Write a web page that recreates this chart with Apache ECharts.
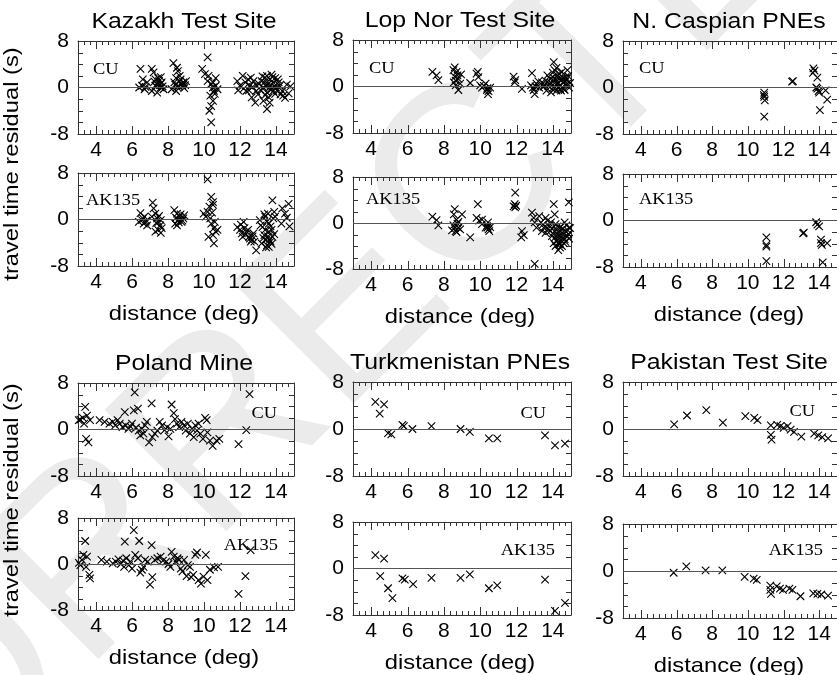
<!DOCTYPE html>
<html>
<head>
<meta charset="utf-8">
<script src="https://cdn.jsdelivr.net/npm/echarts@6/dist/echarts.min.js"></script>
<style>
  html, body { margin: 0; padding: 0; background: #fff; }
  #main { width: 837px; height: 675px; }
</style>
</head>
<body>
<div id="main"></div>
<script>
// [distance (deg), travel time residual (s)]
var kazakhCU = [
  [6.47, 3.2], [6.6, 1.4], [6.4, 0], [6.7, -0.3], [6.84, 0.9], [6.56, 0.3], [6.75, 0.1],
  [7.1, 3.2], [7.2, 2.6], [7.3, 1.4], [7.4, 0.6], [7.6, 0], [7.65, 0.9], [7.1, -0.6], [7.4, -0.9],
  [7.3, 0.3], [7.5, 1.1], [7.75, -0.3], [7.6, 1.8],
  [8.3, 4.2], [8.5, 3.4], [8.55, 2.8], [8.65, 2.0], [8.35, 0.9], [8.5, 0.1], [8.75, 0.6], [8.9, -0.1],
  [8.2, -0.3], [8.65, 1.1], [8.85, 0.9], [9.0, 1.1], [8.45, -0.6],
  [10.2, 5.2], [9.9, 3.2], [10.05, 2.3], [10.2, 1.1], [10.4, 0.6], [10.5, 0], [10.55, -0.6], [10.35, -1.4],
  [10.5, -2.3], [10.4, -3.2], [10.3, -4.0], [10.4, -6.0], [10.65, 0.3], [10.75, -0.3], [10.6, -1.1],
  [10.5, 0.9], [10.65, 1.6], [10.25, 2.0],
  [11.85, 1.1], [12.0, 0.3], [12.15, 2.0], [12.3, 0.9], [12.35, -0.6], [12.55, 0.3], [12.65, -1.7],
  [12.85, -2.6], [12.9, -0.6], [13.05, 0.6], [12.45, 1.4], [12.75, 1.1],
  [13.2, 1.1], [13.3, 0], [13.4, 1.7], [13.5, -0.9], [13.55, 0.6], [13.6, -1.7], [13.65, 1.4], [13.75, -0.3],
  [13.85, 0.9], [13.95, -1.1], [13.5, -3.7], [13.3, -2.3], [14.0, 0], [14.1, 1.4], [14.2, 0.3], [14.35, -0.6],
  [14.4, -1.4], [13.35, 0.9], [13.8, 1.8], [13.6, -0.1], [14.6, 0.5], [14.7, -1.0], [14.5, -1.8], [14.8, 0.2],
  [7.25, 1.0], [7.35, 0.2], [7.55, 0.4], [7.45, 1.6], [7.7, 0.2], [8.4, 0.5], [8.6, 0.2], [8.7, 1.4],
  [8.45, 1.6], [8.8, 0.3], [8.95, 0.4], [12.5, -0.5], [12.7, 0.1], [12.9, 0.4], [13.0, -1.2], [13.15, -0.4],
  [13.25, 1.9], [13.45, 0.2], [13.5, 2.0], [13.7, 0.4], [13.75, 2.2], [13.9, 0.2], [13.95, 1.6], [14.05, -0.5],
  [14.15, 0.9], [14.25, -1.2], [13.4, -1.3], [13.65, -2.6], [13.85, -0.6], [12.6, 1.7], [12.2, -0.2], [11.9, -0.5]
];
var kazakhAK = [
  [10.2, 6.9],
  [6.47, 1.1], [6.56, -0.1], [6.65, -0.7], [6.75, -0.4], [6.84, -1.0], [6.38, -0.4], [6.7, 0.5],
  [7.15, 2.9], [7.2, 1.9], [7.3, 1.0], [7.4, 0.2], [7.47, -0.4], [7.56, -1.0], [7.65, -1.5], [7.3, -2.1],
  [7.45, -1.8], [7.1, 0.5], [7.6, -0.1],
  [8.35, 1.6], [8.5, 1.0], [8.55, -0.1], [8.65, 0.5], [8.75, -0.4], [8.85, 0.2], [8.4, -0.7], [8.9, 0.7], [8.5, -1.0],
  [9.98, 1.0], [10.1, 0.5], [10.4, 3.9], [10.5, 3.0], [10.3, 2.2], [10.2, 1.3], [10.35, 0.2], [10.4, -0.7],
  [10.55, -1.5], [10.65, -2.1], [10.5, -2.7], [10.55, -4.1], [10.25, -3.0], [10.5, 2.5], [10.75, -1.8],
  [11.85, -1.3], [12.0, -1.8], [12.1, -2.4], [12.25, -1.5], [12.35, -2.1], [12.2, -0.4], [12.5, -3.0],
  [12.65, -3.5], [12.8, -3.8], [12.9, -5.3], [12.55, -3.3], [12.75, -2.4],
  [13.1, -0.1], [13.25, -1.3], [13.35, -2.7], [13.45, -3.5], [13.5, -4.4], [13.6, -4.7], [13.7, -3.8],
  [13.75, -1.8], [13.6, -0.7], [13.4, 0.5], [13.85, 0.2], [13.2, -4.1], [13.8, -3.0], [13.6, -2.1],
  [13.8, 3.3], [13.9, 1.3], [13.95, 0.5], [14.35, 1.9], [14.3, -0.7], [14.5, 1.0], [14.7, 2.7], [14.6, 0.3], [14.75, -1.2],
  [6.6, 0.2], [6.8, -0.2], [7.35, -0.6], [7.5, 0.6], [7.6, -2.3], [8.45, 0.3], [8.6, -0.5], [8.7, 0.9],
  [8.8, -0.2], [10.45, 1.2], [10.6, -0.4], [12.05, -0.9], [12.15, -3.0], [12.3, -2.6], [12.45, -1.8],
  [12.6, -3.8], [12.7, -2.9], [13.15, -1.0], [13.3, -3.2], [13.4, -1.8], [13.5, -0.3], [13.55, -2.9],
  [13.65, -3.5], [13.7, -1.2], [13.75, -4.2], [13.45, -4.8], [13.9, -2.5], [13.35, 0.9], [13.55, 1.0]
];
var lopnorCU = [
  [7.37, 2.5], [7.6, 1.9], [7.7, 1.1],
  [8.6, 3.3], [8.7, 2.5], [8.6, 1.7], [8.55, 0.7], [8.8, 1.3], [8.9, 0.5], [8.8, -0.6], [8.65, 0.2], [8.95, 2.1], [8.53, 2.8],
  [9.45, 0.6], [9.8, 2.2], [9.9, 1.6], [10.0, 0.2], [10.1, -0.2], [10.3, 0.5], [10.37, -0.6], [10.46, -0.8],
  [10.55, -0.2], [10.43, -1.3], [9.87, 2.5],
  [11.84, 1.7], [11.93, 1.1], [11.9, 0.7], [12.3, -0.4],
  [12.85, 2.3], [12.8, 0.2], [12.95, -0.6], [13.0, -1.3], [13.1, 0.5], [13.25, -0.2], [13.4, 0.7], [13.5, 0],
  [13.6, 1.0], [13.7, 1.9], [13.8, 0.5], [13.85, 1.3], [13.95, -0.4], [14.05, 4.2], [14.1, 2.8], [14.15, 0.7],
  [14.25, 1.9], [14.3, -0.1], [14.35, 1.3], [14.4, 0.2], [14.5, 2.5], [14.6, 0.7], [14.65, -0.6], [14.7, 1.6],
  [14.8, 0.5], [14.9, -0.2], [13.9, -1.0], [13.65, -0.7], [14.05, 1.0], [14.2, -0.7], [14.45, -0.7], [14.8, 2.8],
  [13.55, 0.3], [13.75, 0.1], [13.9, 0.6], [14.0, 1.6], [14.1, -0.3], [14.2, 1.2], [14.3, 0.6], [14.35, 2.2],
  [14.45, 1.0], [14.5, -0.2], [14.55, 1.5], [14.6, -0.4], [14.7, 0.2], [14.75, 1.1], [14.85, 1.8], [14.95, 0.6],
  [14.0, 2.4], [14.2, 3.2], [14.4, -0.5], [14.65, 0.9], [13.2, 0.9], [13.05, 0.0], [12.9, -0.2], [8.65, 1.0],
  [8.75, 1.9], [10.2, 0.1], [10.4, -0.3]
];
var lopnorAK = [
  [7.37, 1.1], [7.6, 0.5], [7.7, -0.4],
  [8.6, 2.4], [8.55, 1.5], [8.7, 0.6], [8.53, -0.4], [8.8, -0.8], [8.65, -1.4], [8.9, -1.1], [8.45, -1.3],
  [9.0, 1.5], [8.75, -0.1],
  [9.45, -2.5], [9.87, 3.3], [9.8, 0.9], [9.95, 0.4], [10.1, 0.6], [10.37, -0.5], [10.46, -1.1], [10.55, -0.7],
  [10.43, 0.1], [10.3, -0.8], [10.1, -0.2],
  [11.93, 5.3], [11.9, 3.3], [11.93, 2.7], [11.84, 2.9], [11.98, 3.0],
  [12.3, -1.4], [12.4, -2.1], [12.26, -2.5],
  [13.0, -7.1], [12.85, 1.8], [12.95, 0.9], [13.0, 0.1], [13.1, -0.8], [13.25, 1.2], [13.35, 0.1], [13.5, -0.8],
  [13.6, -1.7], [13.7, 0.4], [13.8, -0.5], [13.85, -1.4], [13.95, -2.3], [14.05, 3.3], [14.1, 1.5], [14.15, -0.2],
  [14.2, -1.1], [14.25, -2.0], [14.3, -2.9], [14.35, -3.7], [14.4, -4.3], [14.4, -0.8], [14.5, -1.7], [14.55, -2.6],
  [14.6, -3.5], [14.65, 0.1], [14.7, -1.4], [14.8, -2.3], [14.9, -0.8], [14.88, 3.6], [14.05, -3.5], [13.9, 0.1], [13.4, -1.4],
  [13.95, -1.0], [14.0, -1.8], [14.1, -2.6], [14.2, -3.2], [14.25, -0.6], [14.3, -1.5], [14.35, -2.2], [14.45, -3.0],
  [14.5, -4.0], [14.55, -1.0], [14.6, -2.0], [14.65, -2.8], [14.7, -3.3], [14.75, -0.4], [14.8, -1.2], [14.85, -1.9],
  [14.9, -2.7], [14.95, -0.9], [14.3, -4.7], [14.4, -3.6], [14.15, -4.0], [13.75, -1.0], [13.6, 0.9], [13.45, -0.3],
  [8.6, -0.9], [8.7, -1.6], [8.8, 0.2], [10.5, -1.4], [10.4, -0.8]
];
var caspianCU = [
  [10.92, -0.9], [10.92, -1.6], [10.95, -2.2], [10.9, -1.3], [10.92, -5.0],
  [12.53, 1.1], [12.48, 1.0],
  [13.68, 3.3], [13.74, 2.9], [13.65, 2.5], [13.9, 1.7], [13.9, -0.2], [13.97, -0.6], [14.0, -0.9],
  [14.04, -3.9], [14.36, -0.5], [14.45, -2.1], [13.84, 0]
];
var caspianAK = [
  [11.04, -2.9], [11.04, -4.2], [11.04, -4.5], [11.04, -7.0],
  [13.14, -2.1], [13.1, -2.2],
  [13.83, -0.3], [13.9, -0.7], [14.0, -1.0], [14.1, -3.3], [14.1, -3.9], [14.15, -4.2], [14.2, -7.2], [14.45, -3.9]
];
var polandCU = [
  [3.13, 1.7], [3.27, 2.0], [3.4, 3.9], [3.5, 2.4], [3.67, 1.6], [3.45, -1.6], [3.58, -2.2], [3.34, 1.0], [3.04, 1.6],
  [4.2, 1.6], [4.48, 1.3], [4.75, 1.0], [4.93, 1.3], [5.07, 0.7], [5.2, 1.6], [5.32, 1.0], [5.47, 0.4], [5.6, 3.0],
  [5.65, 0.7], [5.8, 0.1], [5.92, 0.5], [6.0, 1.0], [6.1, 3.3], [6.15, 6.4], [6.22, 0.3], [6.33, 3.6], [6.37, -0.2],
  [6.46, -1.0], [6.55, 0.1], [6.64, -0.7], [6.73, 0.7], [6.82, 1.3], [6.95, -2.2], [7.09, 4.5], [7.13, -1.3],
  [7.27, -0.7], [7.41, -0.2], [7.54, 1.3], [7.67, 0.7], [7.81, -0.1], [7.95, 0.4], [8.03, -1.2], [8.13, 0.1],
  [8.2, 4.3], [8.32, 2.8], [8.39, 1.8], [8.5, 1.0], [8.62, 0.4], [8.75, 1.3], [8.89, 0.7], [8.98, -0.2], [9.1, 1.0],
  [9.22, -0.7], [9.34, 0.1], [9.43, -1.3], [9.52, 0.7], [9.61, -0.2], [9.7, 1.0], [9.8, -0.7], [9.94, -1.6],
  [10.06, 2.0], [10.15, 1.6], [10.19, -0.5], [10.33, -1.9], [10.48, -2.8], [10.7, -1.9], [10.85, -1.6],
  [11.92, -2.5], [12.35, -0.1], [12.53, 6.1]
];
var polandAK = [
  [3.13, -0.2], [3.22, 0.7], [3.3, 1.6], [3.4, 4.0], [3.5, 1.3], [3.63, -1.9], [3.67, -2.5], [3.45, -0.5], [3.05, 0.2],
  [4.3, 0.7], [4.6, 0.4], [4.93, 0.1], [5.1, 0.4], [5.25, 0.8], [5.38, 0], [5.5, 0.6], [5.56, -0.5], [5.6, 3.9],
  [5.68, 1.0], [5.83, -0.2], [5.92, 0.4], [6.0, -0.8], [6.1, 5.9], [6.18, 1.6], [6.33, 1.0], [6.4, 4.0],
  [6.46, -1.5], [6.55, -1.0], [6.64, -0.5], [6.73, 0.7], [6.87, 0.4], [7.0, -3.6], [7.09, 3.3], [7.13, -2.3],
  [7.27, 0.7], [7.41, 1.0], [7.59, 1.3], [7.72, 0.6], [7.9, 0.4], [8.03, 0], [8.13, -0.5], [8.2, 2.1], [8.32, 1.3],
  [8.44, 0.4], [8.53, 1.0], [8.62, 0.7], [8.71, -0.8], [8.8, -1.3], [8.89, 0.7], [9.03, -2.1], [9.1, -0.2],
  [9.22, -0.5], [9.29, -2.3], [9.4, -1.9], [9.52, 1.6], [9.61, 2.0], [9.7, -2.8], [9.83, -3.4], [9.97, -2.2],
  [10.1, 1.6], [10.19, -2.8], [10.33, -1.0], [10.55, -0.6], [10.78, -0.5], [11.92, -5.2], [12.3, -2.1], [12.59, 2.4]
];
var turkCU = [
  [4.23, 4.6], [4.71, 4.2], [4.47, 2.6], [4.93, -0.7], [5.11, -0.9], [5.72, 0.7], [5.8, 0.5], [6.27, 0],
  [7.32, 0.5], [8.92, 0], [9.43, -0.5], [10.48, -1.6], [10.94, -1.6], [13.57, -1.1], [14.12, -2.8], [14.67, -2.5]
];
var turkAK = [
  [4.23, 2.3], [4.71, 1.7], [4.5, -1.3], [4.93, -3.4], [5.17, -5.1], [5.72, -1.7], [5.85, -1.9], [6.31, -2.7],
  [7.32, -1.6], [8.92, -1.6], [9.43, -1.0], [10.48, -3.4], [10.94, -2.9], [13.57, -1.9], [14.12, -7.3], [14.67, -5.9]
];
var pakCU = [
  [5.87, 0.8], [6.59, 2.3], [7.67, 3.2], [8.6, 1.1], [9.86, 2.2], [10.36, 1.9], [10.54, 1.5], [11.29, 0.6],
  [11.29, -1.0], [11.33, -1.8], [11.65, 0.7], [11.83, 0.5], [12.01, 0.2], [12.23, 0.5], [12.4, -0.1], [12.59, -0.5],
  [13.0, -1.3], [13.72, -0.8], [13.95, -1.1], [14.17, -1.4], [14.5, -1.6]
];
var pakAK = [
  [5.84, -0.3], [6.55, 0.8], [7.63, 0.1], [8.57, 0.1], [9.82, -1.0], [10.33, -1.3], [10.5, -1.5], [11.26, -2.5],
  [11.26, -3.2], [11.3, -3.9], [11.62, -2.6], [11.8, -3.0], [11.97, -3.2], [12.33, -3.0], [12.5, -3.2],
  [12.95, -4.3], [13.67, -3.8], [13.9, -3.9], [14.12, -4.0], [14.5, -4.2]
];

var siteNames = ['Kazakh Test Site', 'Lop Nor Test Site', 'N. Caspian PNEs',
                 'Poland Mine', 'Turkmenistan PNEs', 'Pakistan Test Site'];
var modelNames = ['CU', 'AK135'];
var xTickLabels = [4, 6, 8, 10, 12, 14];
// small frame ticks on the distance axis (every 1/3 deg) and on the residual axis
var xFrameTicks = [3.333, 3.667, 5, 4.333, 4.667, 5.333, 5.667, 6.333, 6.667, 7, 7.333, 7.667,
                   8.333, 8.667, 9, 9.333, 9.667, 10.333, 10.667, 11, 11.333, 11.667,
                   12.333, 12.667, 13, 13.333, 13.667, 14.333, 14.667];
var yFrameTicks = [-6, -4, -2, 2, 4, 6];

// per panel: data, model, box [left, top, width, height], model label anchor [x, y, align]
var panels = [
  { data: kazakhCU,  model: 0, box: [78, 41, 216, 93],   tag: [93, 70, 'left'] },
  { data: kazakhAK,  model: 1, box: [78, 173, 216, 93],  tag: [86, 201, 'left'] },
  { data: lopnorCU,  model: 0, box: [353, 40, 218, 93],  tag: [369, 69, 'left'] },
  { data: lopnorAK,  model: 1, box: [353, 177, 218, 92], tag: [366, 200, 'left'] },
  { data: caspianCU, model: 0, box: [623, 41, 216, 93],  tag: [639, 69, 'left'] },
  { data: caspianAK, model: 1, box: [623, 174, 216, 93], tag: [639, 200, 'left'] },
  { data: polandCU,  model: 0, box: [78, 383, 216, 93],  tag: [277, 414, 'right'] },
  { data: polandAK,  model: 1, box: [78, 518, 216, 92],  tag: [278, 546, 'right'] },
  { data: turkCU,    model: 0, box: [353, 382, 218, 94], tag: [546, 414, 'right'] },
  { data: turkAK,    model: 1, box: [353, 522, 218, 93], tag: [555, 551, 'right'] },
  { data: pakCU,     model: 0, box: [623, 382, 216, 94], tag: [815, 412, 'right'] },
  { data: pakAK,     model: 1, box: [623, 524, 216, 94], tag: [823, 551, 'right'] }
];

var SANS = 'Liberation Sans';
var SERIF = 'Liberation Serif';
var crossPath = 'path://M0,0L10,10M10,0L0,10';
var frameColor = '#333';
var frameLine = { show: true, onZero: false, lineStyle: { color: frameColor, width: 1 } };

// x ticks: [value, isAnnotated]
var xTickData = xFrameTicks.map(function (v) { return [v, 0]; })
  .concat(xTickLabels.map(function (v) { return [v, 1]; }));
var yTickData = yFrameTicks.map(function (v) { return [3, v]; });

function tickLine(x1, y1, x2, y2) {
  return { type: 'line', shape: { x1: x1, y1: y1, x2: x2, y2: y2 },
           style: { stroke: frameColor, lineWidth: 1 } };
}
function renderXTick(params, api) {
  var v = api.value(0);
  var len = api.value(1) ? 8 : 4;
  var pb = api.coord([v, -8]);
  var pt = api.coord([v, 8]);
  var x = Math.round(pb[0]) + 0.5;
  return { type: 'group', children: [
    tickLine(x, pb[1], x, pb[1] - len),
    tickLine(x, pt[1], x, pt[1] + len)
  ] };
}
function renderYTick(params, api) {
  var v = api.value(1);
  var pl = api.coord([3, v]);
  var pr = api.coord([15, v]);
  var y = Math.round(pl[1]) + 0.5;
  return { type: 'group', children: [
    tickLine(pl[0], y, pl[0] + 5, y),
    tickLine(pr[0], y, pr[0] - 5, y)
  ] };
}

var grids = [], xAxes = [], yAxes = [], series = [], graphics = [];

panels.forEach(function (p, i) {
  var b = p.box;
  grids.push({ left: b[0], top: b[1], width: b[2], height: b[3], show: false });
  ['bottom', 'top'].forEach(function (pos) {
    xAxes.push({
      gridIndex: i, type: 'value', min: 3, max: 15, interval: 1, position: pos,
      axisLine: frameLine, splitLine: { show: false }, axisTick: { show: false },
      axisLabel: {
        show: pos === 'bottom', margin: 6, color: '#000', fontFamily: SANS, fontSize: 21,
        customValues: xTickLabels
      }
    });
  });
  ['left', 'right'].forEach(function (pos) {
    yAxes.push({
      gridIndex: i, type: 'value', min: -8, max: 8, interval: 8, position: pos,
      axisLine: frameLine, splitLine: { show: false }, axisTick: { show: false },
      axisLabel: { show: pos === 'left', margin: 9, color: '#000', fontFamily: SANS, fontSize: 21 }
    });
  });

  series.push({
    type: 'scatter', xAxisIndex: 2 * i, yAxisIndex: 2 * i,
    data: p.data, symbol: crossPath, symbolSize: 7.5,
    itemStyle: { color: 'none', borderColor: '#000', borderWidth: 1.1, opacity: 1 },
    markLine: {
      silent: true, symbol: 'none', label: { show: false },
      lineStyle: { color: '#555', type: 'solid', width: 1.2 },
      data: [{ yAxis: 0 }]
    },
    animation: false
  });
  // frame ticks, placed through the panel's own axes
  series.push({
    type: 'custom', xAxisIndex: 2 * i, yAxisIndex: 2 * i, silent: true, clip: false,
    data: xTickData, renderItem: renderXTick, animation: false
  });
  series.push({
    type: 'custom', xAxisIndex: 2 * i, yAxisIndex: 2 * i, silent: true, clip: false,
    data: yTickData, renderItem: renderYTick, animation: false
  });

  graphics.push({
    type: 'text', x: p.tag[0], y: p.tag[1], scaleX: 1.15,
    style: {
      text: modelNames[p.model], font: '16px "' + SERIF + '"', fill: '#000',
      textAlign: p.tag[2], textVerticalAlign: 'middle'
    }
  });
});

// site titles above CU panels
[0, 2, 4, 6, 8, 10].forEach(function (pi, k) {
  var b = panels[pi].box;
  graphics.push({
    type: 'text', x: b[0] + b[2] / 2 - 2, y: b[1] - 19, scaleX: 1.13,
    style: { text: siteNames[k], font: '22px "' + SANS + '"', fill: '#000',
             textAlign: 'center', textVerticalAlign: 'middle' }
  });
});

// x axis name under AK135 panels
[1, 3, 5, 7, 9, 11].forEach(function (pi) {
  var b = panels[pi].box;
  graphics.push({
    type: 'text', x: b[0] + b[2] / 2 - 2, y: b[1] + b[3] + 48, scaleX: 1.13,
    style: { text: 'distance (deg)', font: '21px "' + SANS + '"', fill: '#000',
             textAlign: 'center', textVerticalAlign: 'middle' }
  });
});

// y axis names
[164, 500].forEach(function (cy) {
  graphics.push({
    type: 'text', x: 12, y: cy, rotation: Math.PI / 2, scaleX: 1.13,
    style: { text: 'travel time residual (s)', font: '21px "' + SANS + '"', fill: '#000',
             textAlign: 'center', textVerticalAlign: 'middle' }
  });
});

// faint watermark behind everything
graphics.unshift({
  type: 'text', x: 330, y: 330, rotation: Math.PI / 4, z: -10, silent: true,
  style: { text: 'CORRECTED', font: '250px "' + SANS + '"', fill: '#ebebeb',
           textAlign: 'center', textVerticalAlign: 'middle' }
});

var chart = echarts.init(document.getElementById('main'), null, { renderer: 'canvas' });
chart.setOption({
  animation: false,
  backgroundColor: '#fff',
  grid: grids,
  xAxis: xAxes,
  yAxis: yAxes,
  series: series,
  graphic: graphics
});
</script>
</body>
</html>
